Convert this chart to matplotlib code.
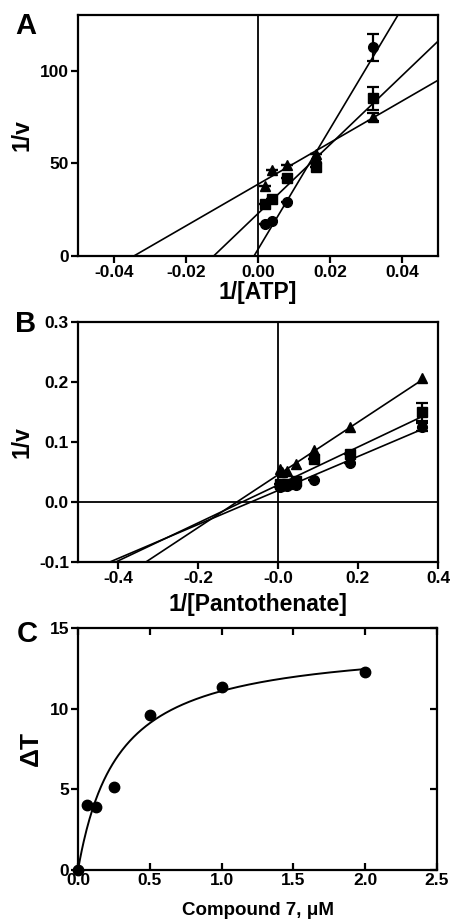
import numpy as np
import matplotlib
matplotlib.use("Agg")
import matplotlib.pyplot as plt

plt.rcParams['font.family'] = ['Liberation Sans', 'DejaVu Sans']
plt.rcParams['font.weight'] = 'bold'

# ---- Panel A data ----
atp_x = [0.002, 0.004, 0.008, 0.016, 0.032]
a_circle = [17.3, 19.0, 29.0, 50.0, 112.5]
a_circle_err = [0, 0, 0, 0, 7.5]
a_square = [28.0, 31.0, 42.0, 48.0, 85.0]
a_square_err = [0, 0, 0, 0, 6.0]
a_triangle = [38.0, 46.5, 49.0, 55.0, 75.0]
a_triangle_err = [0, 0, 0, 0, 2.0]
a_fit_slope = [3250.0, 1859.0, 1122.0]
a_fit_icpt = [3.6, 22.9, 38.7]

# ---- Panel B data ----
pan_x = [0.0056, 0.011, 0.022, 0.045, 0.09, 0.18, 0.36]
b_triangle = [0.054, 0.050, 0.052, 0.063, 0.086, 0.125, 0.206]
b_square = [0.030, 0.028, 0.030, 0.035, 0.072, 0.080, 0.150]
b_square_err = [0, 0, 0, 0, 0, 0, 0.015]
b_circle = [0.025, 0.026, 0.027, 0.028, 0.036, 0.064, 0.125]
b_circle_err = [0, 0, 0, 0, 0, 0, 0.007]
b_fit_slope = [0.439, 0.316, 0.283]
b_fit_icpt = [0.045, 0.0282, 0.019]

# ---- Panel C data ----
cpd_x = [0.0, 0.0625, 0.125, 0.25, 0.5, 1.0, 2.0]
delta_t = [0.0, 4.02, 3.9, 5.16, 9.58, 11.37, 12.29]
c_bmax = 14.2
c_kd = 0.28

W, H = 451, 923
fig = plt.figure(figsize=(W / 100, H / 100), dpi=100)

def ax_rect(l, t, r, b):
    return [l / W, 1 - b / H, (r - l) / W, (b - t) / H]

TICK_FS = 12.5
LAB_FS = 16.5
LET_FS = 21
SPW = 1.6
LW = 1.2
MS = 7
EB = dict(color='black', ms=MS, capsize=4, elinewidth=1.6, capthick=1.6)

def style(ax):
    for s in ax.spines.values():
        s.set_linewidth(SPW)
    ax.tick_params(width=SPW, length=5, labelsize=TICK_FS, pad=1.5)
    for lab in ax.get_xticklabels() + ax.get_yticklabels():
        lab.set_fontweight('bold')

# ---- A ----
axA = fig.add_axes(ax_rect(78, 15, 438, 256))
axA.set_xlim(-0.05, 0.05)
axA.set_ylim(0, 130)
axA.axvline(0, color='black', lw=1.3)
for slope, icpt in zip(a_fit_slope, a_fit_icpt):
    x0 = -icpt / slope
    xs = np.array([x0, 0.05])
    axA.plot(xs, icpt + slope * xs, color='black', lw=LW)
axA.errorbar(atp_x, a_circle, yerr=a_circle_err, fmt='o', **EB)
axA.errorbar(atp_x, a_square, yerr=a_square_err, fmt='s', **EB)
axA.errorbar(atp_x, a_triangle, yerr=a_triangle_err, fmt='^', **EB)
axA.set_xticks([-0.04, -0.02, 0.0, 0.02, 0.04])
axA.set_xticklabels(['-0.04', '-0.02', '0.00', '0.02', '0.04'])
axA.set_yticks([0, 50, 100])
axA.set_xlabel('1/[ATP]', fontsize=LAB_FS, fontweight='bold')
axA.set_ylabel('1/v', fontsize=LAB_FS, fontweight='bold')
axA.xaxis.set_label_coords(0.5, (256 - 281) / 241)
axA.yaxis.set_label_coords((34 - 78) / 360, 0.5)
style(axA)
fig.text(15 / W, 1 - 26 / H, 'A', fontsize=LET_FS, fontweight='bold', va='center', ha='left')

# ---- B ----
axB = fig.add_axes(ax_rect(78, 321.7, 438, 562))
axB.set_xlim(-0.5, 0.4)
axB.set_ylim(-0.1, 0.3)
axB.axvline(0, color='black', lw=1.3)
axB.axhline(0, color='black', lw=1.3)
for slope, icpt in zip(b_fit_slope, b_fit_icpt):
    xs = np.array([-0.5, 0.36])
    axB.plot(xs, icpt + slope * xs, color='black', lw=LW)
axB.errorbar(pan_x, b_circle, yerr=b_circle_err, fmt='o', **EB)
axB.errorbar(pan_x, b_square, yerr=b_square_err, fmt='s', **EB)
axB.plot(pan_x, b_triangle, '^', color='black', ms=MS)
axB.set_xticks([-0.4, -0.2, 0.0, 0.2, 0.4])
axB.set_xticklabels(['-0.4', '-0.2', '-0.0', '0.2', '0.4'])
axB.set_yticks([-0.1, 0.0, 0.1, 0.2, 0.3])
axB.set_yticklabels(['-0.1', '0.0', '0.1', '0.2', '0.3'])
axB.set_xlabel('1/[Pantothenate]', fontsize=LAB_FS, fontweight='bold')
axB.set_ylabel('1/v', fontsize=LAB_FS, fontweight='bold')
axB.xaxis.set_label_coords(0.5, (562 - 593) / 240.3)
axB.yaxis.set_label_coords((34 - 78) / 360, 0.5)
style(axB)
fig.text(15 / W, 1 - 324 / H, 'B', fontsize=LET_FS, fontweight='bold', va='center', ha='left')

# ---- C ----
axC = fig.add_axes(ax_rect(78, 628, 437, 870))
axC.set_xlim(0, 2.5)
axC.set_ylim(0, 15)
xc = np.linspace(0, 2.0, 300)
axC.plot(xc, c_bmax * xc / (c_kd + xc), color='black', lw=LW + 0.2)
axC.plot(cpd_x, delta_t, 'o', color='black', ms=MS + 0.5, clip_on=False)
axC.set_xticks([0, 0.5, 1.0, 1.5, 2.0, 2.5])
axC.set_xticklabels(['0.0', '0.5', '1.0', '1.5', '2.0', '2.5'])
axC.set_yticks([0, 5, 10, 15])
style(axC)
axC.tick_params(axis='x', direction='in', top=True, pad=2)
axC.tick_params(axis='y', right=True, direction='out')
for t in axC.yaxis.get_major_ticks():
    t.tick2line.set_marker(matplotlib.lines.TICKLEFT)
axC.set_xlabel('Compound 7, μM', fontsize=13.5, fontweight='bold')
axC.set_ylabel('ΔT', fontsize=19, fontweight='bold')
axC.xaxis.set_label_coords(0.5, (870 - 902) / 242)
axC.yaxis.set_label_coords((43 - 78) / 359, 0.5)
fig.text(17 / W, 1 - 634 / H, 'C', fontsize=LET_FS, fontweight='bold', va='center', ha='left')

fig.savefig('out.png', dpi=100)
